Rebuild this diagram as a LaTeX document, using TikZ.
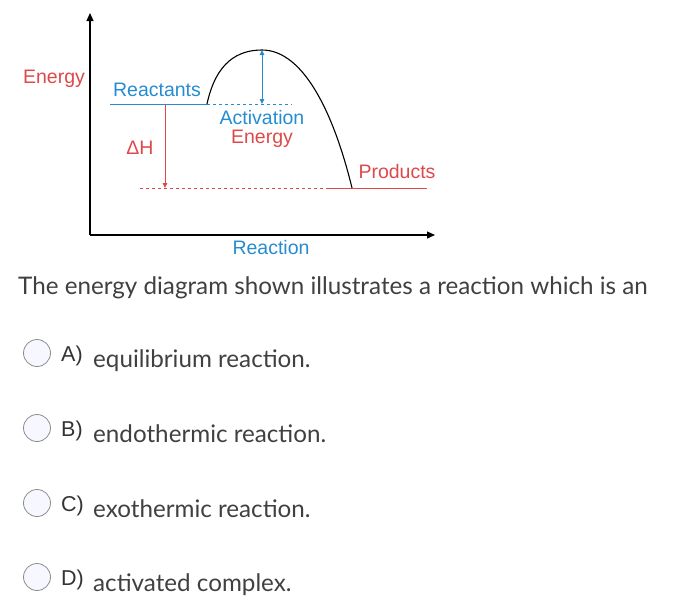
\documentclass[tikz,border=0pt]{standalone}
\usepackage{fontspec}
\setmainfont{Liberation Sans}
\newfontfamily\latofont{Lato}
\usetikzlibrary{arrows.meta}

\definecolor{lblred}{RGB}{222,72,72}
\definecolor{lblblue}{RGB}{38,140,208}
\definecolor{qgray}{RGB}{64,64,64}

\tikzset{
	label/.style={inner sep=0pt, font=\fontsize{19.5}{19}\selectfont},
	qtext/.style={inner sep=0pt, text=qgray, font=\latofont\fontsize{24.2}{28}\selectfont},
	optletter/.style={inner sep=0pt, text=black!80, font=\fontsize{21.5}{25}\selectfont},
	radio/.style={circle, draw=black!45, fill=blue!3, line width=0.8pt, minimum size=27pt, inner sep=0pt}
}

\begin{document}
\begin{tikzpicture}[x=1pt, y=-1pt]
	\useasboundingbox (0,0) rectangle (683,611);
	\coordinate (O) at (90,235);
	\coordinate (ytip) at (90,13);
	\coordinate (xtip) at (435,235);
	\coordinate (R0) at (110,104);
	\coordinate (R1) at (207,104);
	\coordinate (peak) at (262,50);
	\coordinate (Ea) at (262,104);
	\coordinate (Rd) at (292,104);
	\coordinate (P0) at (352,188);
	\coordinate (Ps) at (328,188);
	\coordinate (P1) at (427,188);
	\coordinate (Pd) at (140,188);
	\coordinate (H0) at (165,104);
	\coordinate (H1) at (165,188);
	% axes
	\draw[line width=1.2pt, -{Triangle[length=8pt, width=7pt]}] (O) -- (ytip);
	\draw[line width=1.2pt, -{Triangle[length=8pt, width=7pt]}] (O) -- (xtip);
	% levels
	\draw[lblblue, line width=0.9pt] (R0) -- (R1);
	\draw[lblblue, line width=0.9pt, dash pattern=on 3pt off 3pt] (R1) -- (Rd);
	\draw[lblred, line width=0.9pt, dash pattern=on 3pt off 3pt] (Pd) -- (Ps);
	\draw[lblred, line width=0.9pt] (Ps) -- (P1);
	% curve
	\draw[line width=1.1pt] (R1) .. controls (216,62) and (238,50) .. (peak) .. controls (305,50) and (335,118) .. (P0);
	\draw[lblblue, line width=0.9pt, {Triangle[length=5pt, width=4.5pt]}-{Triangle[length=5pt, width=4.5pt]}] (peak) -- (Ea);
	\draw[lblred, line width=0.9pt, -{Triangle[length=5pt, width=4.5pt]}] (H0) -- (H1);
	% labels
	\node[label, text=lblred] (energy) at (54,79) {Energy};
	\node[label, text=lblblue] (reactants) at (157,90) {Reactants};
	\node[label, text=lblblue] (activation) at (262,118) {Activation};
	\node[label, text=lblred] (actenergy) at (262,139) {Energy};
	\node[label, text=lblred] (dH) at (140,148) {ΔH};
	\node[label, text=lblred] (products) at (397,172) {Products};
	\node[label, text=lblblue] (reaction) at (271,248) {Reaction};
	% question
	\node[qtext, anchor=base west] (question) at (18,294) {The energy diagram shown illustrates a reaction which is an};
	\foreach \lt/\txt/\yc in {A/equilibrium reaction./353, B/endothermic reaction./428, C/exothermic reaction./503, D/activated complex./577}{
		\node[radio] (radio\lt) at (37,\yc) {};
		\node[optletter, anchor=base west] (letter\lt) at (61,\yc+8) {\lt)};
		\node[qtext, anchor=base west] (opt\lt) at (93,\yc+14) {\txt};
	}
\end{tikzpicture}
\end{document}
